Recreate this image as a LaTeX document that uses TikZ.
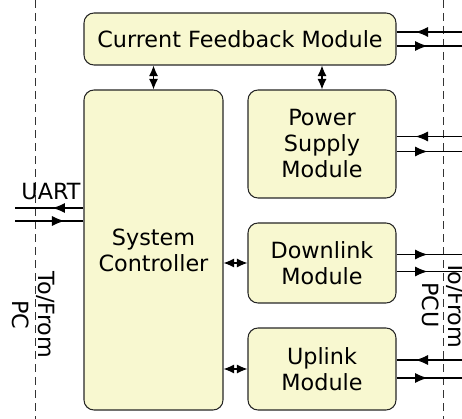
\documentclass[tikz,border=0pt]{standalone}
\usepackage{fontspec}
\setmainfont{DejaVu Sans}
\usepackage{tikz}
\usetikzlibrary{positioning, arrows.meta, calc, decorations.markings}

\definecolor{modfill}{RGB}{248,248,208}

\begin{document}
\begin{tikzpicture}[
		module/.style={draw=black!85, fill=modfill, rounded corners=0.2cm, line width=0.6pt,
			align=center, inner sep=0pt, font=\fontsize{12.7}{14.8}\selectfont},
		label/.style={align=center, inner sep=0pt, font=\fontsize{12.7}{14.8}\selectfont},
		bus/.style={{Latex[length=0.21cm,width=0.18cm]}-{Latex[length=0.21cm,width=0.18cm]}, line width=0.6pt},
		sigout/.style={line width=0.6pt, postaction={decorate},
			decoration={markings, mark=at position 0.62cm with {\arrow{Latex[length=0.25cm,width=0.2cm]}}}},
		sigin/.style={line width=0.6pt, postaction={decorate},
			decoration={markings, mark=at position 0.38cm with {\arrowreversed{Latex[length=0.25cm,width=0.2cm]}}}},
		border/.style={draw=black!80, line width=0.5pt, dash pattern=on 0.16cm off 0.1cm}
	]
	\useasboundingbox (0,0) rectangle (9.24,-8.38);
	\def\dy{0.15}

	% interface borders
	\draw [border] (0.70,0) -- (0.70,-8.38);
	\draw [border] (8.86,0) -- (8.86,-8.38);

	\node[module, minimum width=6.24cm, minimum height=1.04cm] (cfm) at (4.80,-0.78) {Current Feedback Module};
	\node[module, minimum width=2.78cm, minimum height=6.4cm] (sysctrl) at (3.07,-5.00) {System\\Controller};
	\node[module, minimum width=2.96cm, minimum height=2.16cm] (power) at (6.44,-2.88) {Power\\Supply\\Module};
	\node[module, minimum width=2.96cm, minimum height=1.6cm] (downlink) at (6.44,-5.26) {Downlink\\Module};
	\node[module, minimum width=2.96cm, minimum height=1.64cm] (uplink) at (6.44,-7.38) {Uplink\\Module};

	% internal buses
	\draw [bus] (sysctrl.north) -- (sysctrl.north |- cfm.south);
	\draw [bus] (power.north) -- (power.north |- cfm.south);
	\draw [bus] (downlink.west) -- (downlink.west -| sysctrl.east);
	\draw [bus] (uplink.west) -- (uplink.west -| sysctrl.east);

	% PCU side
	\coordinate (cfm in) at ($ (9.24,0 |- cfm.east) + (0,\dy-0.01) $);
	\coordinate (cfm out) at ($ (9.24,0 |- cfm.east) + (0,-\dy+0.01) $);
	\draw [sigin] (cfm.east |- cfm in) -- (cfm in);
	\draw [sigout] (cfm.east |- cfm out) -- (cfm out);

	\coordinate (power in) at ($ (9.24,0 |- power.east) + (0,\dy) $);
	\coordinate (power out) at ($ (9.24,0 |- power.east) + (0,-\dy) $);
	\draw [sigin] (power.east |- power in) -- (power in);
	\draw [sigout] (power.east |- power out) -- (power out);

	\coordinate (downlink outa) at ($ (9.24,0 |- downlink.east) + (0,\dy+0.02) $);
	\coordinate (downlink outb) at ($ (9.24,0 |- downlink.east) + (0,-\dy-0.02) $);
	\draw [sigout] (downlink.east |- downlink outa) -- (downlink outa);
	\draw [sigout] (downlink.east |- downlink outb) -- (downlink outb);

	\coordinate (uplink in) at ($ (9.24,0 |- uplink.east) + (0,\dy+0.03) $);
	\coordinate (uplink out) at ($ (9.24,0 |- uplink.east) + (0,-\dy-0.03) $);
	\draw [sigin] (uplink.east |- uplink in) -- (uplink in);
	\draw [sigout] (uplink.east |- uplink out) -- (uplink out);

	% PC side
	\coordinate (uart out) at (0.30,-4.16);
	\coordinate (uart in) at (0.30,-4.42);
	\draw [sigout] (sysctrl.west |- uart out) -- (uart out);
	\draw [sigin] (sysctrl.west |- uart in) -- (uart in);
	\node[label, anchor=base] (uart) at (1.02,-4.0) {UART};

	\node[label, rotate=-90] (pc) at (0.66,-6.30) {To/From\\PC};
	\node[label, rotate=-90] (pcu) at (8.86,-6.10) {To/From\\PCU};
\end{tikzpicture}
\end{document}
